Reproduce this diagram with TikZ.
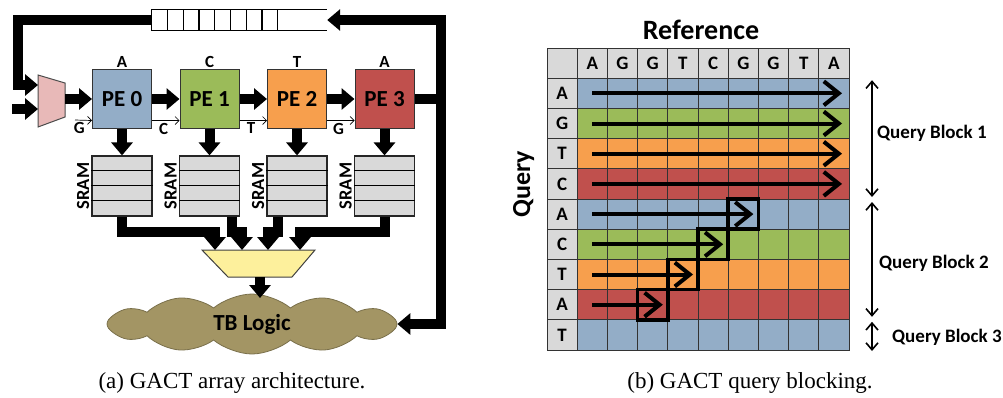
\documentclass[tikz,border=0pt]{standalone}
\usepackage{fontspec}
\setmainfont{Liberation Serif}
\newfontfamily\lblfont{Carlito}
\usepackage{tikz}
\usetikzlibrary{arrows.meta,positioning,calc,shapes.symbols}
\definecolor{CB}{HTML}{93ADC7}
\definecolor{CG}{HTML}{9BBB59}
\definecolor{CO}{HTML}{F79F4D}
\definecolor{CR}{HTML}{C0504D}
\definecolor{CS}{HTML}{D9D9D9}
\definecolor{CM}{HTML}{E8B9B8}
\definecolor{CY}{HTML}{FDF09C}
\definecolor{CT}{HTML}{A39564}
\tikzset{
  >={Triangle[length=13pt,width=21pt]},
  bus/.style={line width=10pt},
  pe/.style={draw=black!80, line width=1pt, minimum size=59pt, inner sep=0pt,
    font=\lblfont\bfseries\fontsize{23}{26}\selectfont},
  sram/.style={draw=black!85, line width=1.2pt, fill=CS, minimum width=60pt,
    minimum height=60pt, inner sep=0pt},
  tag/.style={inner sep=1pt, font=\lblfont\bfseries\fontsize{17}{19}\selectfont},
  thinarr/.style={line width=0.7pt, -{Straight Barb[length=4pt,width=8pt]}},
  cell/.style={draw=black!80, line width=0.8pt, minimum size=30.2pt, inner sep=0pt,
    outer sep=0pt, font=\lblfont\bfseries\fontsize{19}{21}\selectfont},
  rowarr/.style={line width=4pt, -{Straight Barb[length=15pt,width=24pt]}},
  hit/.style={line width=3.5pt},
  blockarr/.style={line width=1.6pt,
    {Straight Barb[length=7pt,width=12pt]}-{Straight Barb[length=7pt,width=12pt]}},
  blocklbl/.style={anchor=west, inner sep=0pt,
    font=\lblfont\bfseries\fontsize{19}{21}\selectfont},
  caption/.style={anchor=base, inner sep=0pt, font=\fontsize{23}{26}\selectfont}
}
\begin{document}
\begin{tikzpicture}[x=1pt,y=-1pt]
  \useasboundingbox (0,0) rectangle (1003,397);

  % (a) array
  \node[minimum width=175pt, minimum height=21pt, inner sep=0pt] (fifo) at (239.5,20) {};
  \foreach \i in {0,...,7}
    \draw[line width=1.2pt] ($(fifo.north west)+(\i*15.75,0)$) rectangle ++(15.75,21);
  \draw[line width=1.2pt] (fifo.north west) -- (fifo.north east)
    (fifo.south west) -- (fifo.south east);

  \foreach \p/\f/\s in {0/CB/A,1/CG/C,2/CO/T,3/CR/A}{
    \node[pe, fill=\f] (pe\p) at (122+87.5*\p,99) {PE \p};
    \node[tag, above=0pt of pe\p] (base\p) {\s};
    \node[sram] (sram\p) at (122+87.5*\p,186) {};
    \foreach \j in {1,2,3}
      \draw[line width=1.2pt] ([yshift=-\j*15pt]sram\p.north west)
        -- ([yshift=-\j*15pt]sram\p.north east);
    \node[rotate=90, anchor=south, inner sep=1pt,
      font=\lblfont\bfseries\fontsize{18.5}{20}\selectfont]
      (slbl\p) at ([xshift=-1pt]sram\p.west) {SRAM};
    \draw[bus,->] (pe\p.south) -- (sram\p.north);
  }

  \draw[fill=CM, draw=black!70, line width=1pt]
    (38,75) -- (65,83) -- (65,117) -- (38,127) -- cycle;
  \coordinate (mxin0) at (38,85);
  \coordinate (mxin1) at (38,109);
  \coordinate (mxout) at (65,99);
  \coordinate (extin) at (12,109);
  \coordinate (fbl) at (17.5,85);
  \coordinate (fbt) at (441,20);

  \node[cloud, fill=CT, draw=CT!75!black, line width=0.8pt, cloud puffs=12,
    cloud puff arc=80, aspect=5, minimum width=290pt, minimum height=60pt,
    font=\lblfont\bfseries\fontsize{23}{26}\selectfont] (tblogic) at (252,324) {TB Logic};

  \draw[bus,->] (mxout) -- (mxout -| pe0.west);
  \foreach \a/\b in {0/1,1/2,2/3}
    \draw[bus,->] (pe\a.east) -- (pe\b.west);
  \draw[bus] (pe3.east) -- (pe3.east -| fbt);
  \draw[bus,<->] (tblogic.east) -| (fbt) -- (fifo.east);
  \draw[bus,->] (fifo.west) -| (fbl) -- (mxin0);
  \draw[bus,->] (extin) -- (mxin1);

  \coordinate (gin) at (75,120);
  \draw[thinarr] (gin) -- ($(pe0.south west)+(0,-8.5)$)
    node[tag, below=1pt, pos=.25] (nb0) {G};
  \foreach \a/\b/\s in {0/1/C,1/2/T,2/3/G}
    \draw[thinarr] ($(pe\a.south east)+(0,-8.5)$) -- ($(pe\b.south west)+(0,-8.5)$)
      node[tag, below=1pt, pos=.42] (nb\b) {\s};

  \coordinate (sel0) at (215,250);
  \coordinate (sel1) at (242,250);
  \coordinate (sel2) at (268,250);
  \coordinate (sel3) at (300,250);
  \coordinate (selout) at (260,277);
  \draw[bus,->] (sram0.south) -- ++(0,15) -| (sel0);
  \draw[bus,->] ([xshift=22.5pt]sram1.south) -- ++(0,15) -| (sel1);
  \draw[bus,->] ([xshift=-19pt]sram2.south) -- ++(0,15) -| (sel2);
  \draw[bus,->] (sram3.south) -- ++(0,15) -| (sel3);
  \draw[fill=CY, draw=black!75, line width=1pt]
    (202,250) -- (315,250) -- (292,277) -- (228,277) -- cycle;
  \draw[bus,->] (selout) -- ++(0,21);

  \node[caption] (capa) at (232,388) {(a) GACT array architecture.};

  % (b) blocking
  \foreach \r/\f in {1/CB,2/CG,3/CO,4/CR,5/CB,6/CG,7/CO,8/CR,9/CB}
    \foreach \c in {1,...,9}
      \node[cell, fill=\f] (cell-\r-\c) at ({547+30.2*(\c+.5)},{48+30.2*(\r+.5)}) {};
  \node[cell, fill=CS] (cell-0-0) at ({547+30.2*.5},{48+30.2*.5}) {};
  \foreach \c/\l in {1/A,2/G,3/G,4/T,5/C,6/G,7/G,8/T,9/A}
    \node[cell, fill=CS] (cell-0-\c) at ({547+30.2*(\c+.5)},{48+30.2*.5}) {\l};
  \foreach \r/\l in {1/A,2/G,3/T,4/C,5/A,6/C,7/T,8/A,9/T}
    \node[cell, fill=CS] (cell-\r-0) at ({547+30.2*.5},{48+30.2*(\r+.5)}) {\l};

  \foreach \r in {1,...,4}
    \draw[rowarr] (cell-\r-1.center) -- ([xshift=-7pt]cell-\r-9.east);
  \foreach \r in {5,...,8}{
    \pgfmathtruncatemacro{\e}{11-\r}
    \draw[rowarr] (cell-\r-1.center) -- ([xshift=-5pt]cell-\r-\e.east);
    \draw[hit] (cell-\r-\e.north west) rectangle (cell-\r-\e.south east);
  }

  \draw[blockarr] ($(cell-1-9.north east)+(23,2)$) -- ($(cell-4-9.south east)+(23,-2)$);
  \draw[blockarr] ($(cell-5-9.north east)+(23,3)$) -- ($(cell-8-9.south east)+(23,-3)$);
  \draw[blockarr] ($(cell-9-9.north east)+(23,2)$) -- ($(cell-9-9.south east)+(23,1)$);
  \node[blocklbl] (qb1) at (877,133) {Query Block 1};
  \node[blocklbl] (qb2) at (879,263) {Query Block 2};
  \node[blocklbl] (qb3) at (892,337) {Query Block 3};

  \node[anchor=base, inner sep=0pt, font=\lblfont\bfseries\fontsize{28}{30}\selectfont]
    (reftitle) at (701,39) {Reference};
  \node[rotate=90, anchor=base, inner sep=0pt,
    font=\lblfont\bfseries\fontsize{26}{28}\selectfont] (qrytitle) at (530,184) {Query};

  \node[caption] (capb) at (750,388) {(b) GACT query blocking.};
\end{tikzpicture}
\end{document}
